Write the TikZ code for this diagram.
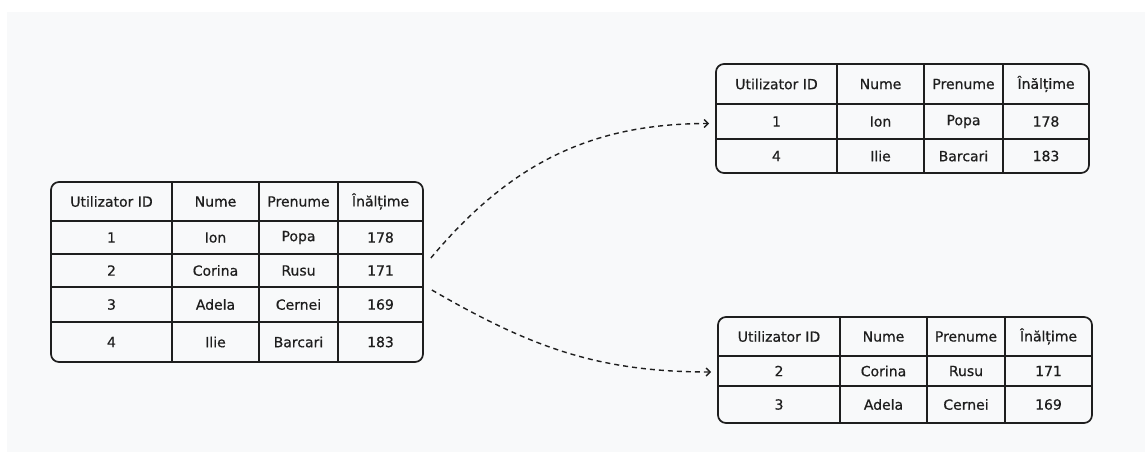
\documentclass[tikz,border=0pt]{standalone}
\usepackage{fontspec}
\setmainfont{DejaVu Sans}
\newfontfamily\cellfont[FakeBold=0.6]{DejaVu Sans}
\usepackage{xcolor}
\usepackage{tikz}
\usetikzlibrary{arrows.meta,positioning,calc}

\definecolor{canvas}{HTML}{F8F9FA}
\definecolor{ink}{HTML}{1E1E1E}

\tikzset{
    tableframe/.style={draw=ink, line width=1.7pt, rounded corners=8pt, inner sep=0pt},
    rule/.style={draw=ink, line width=1.5pt},
    cell/.style={text=ink, font=\cellfont\fontsize{14}{16}\selectfont, inner sep=0pt},
    flow/.style={draw=ink, line width=1.4pt, dash pattern=on 5pt off 4pt,
        -{Straight Barb[length=4pt,width=8pt]}}
}

\begin{document}
\begin{tikzpicture}[x=1pt, y=-1pt]
    % Canvas
    \fill[white] (0,0) rectangle (1145,466);
    \fill[canvas] (7,12) rectangle (1145,452);

    % Source table (all users)
    \node[tableframe, minimum width=372pt, minimum height=180pt] (src) at (237,272) {};
    \draw[rule] (172,182) -- (172,362) (259,182) -- (259,362) (338,182) -- (338,362);
    \foreach \y in {221,254,287,322}
        \draw[rule] (51,\y) -- (423,\y);
    \foreach \y/\a/\b/\c/\d [count=\r] in {201.5/Utilizator ID/Nume/Prenume/Înălțime,
            237.5/1/Ion/Popa/178, 270.5/2/Corina/Rusu/171,
            304.5/3/Adela/Cernei/169, 342/4/Ilie/Barcari/183} {
        \node[cell] (src-\r-1) at (111.5,\y) {\a};
        \node[cell] (src-\r-2) at (215.5,\y) {\b};
        \node[cell] (src-\r-3) at (298.5,\y) {\c};
        \node[cell] (src-\r-4) at (380.5,\y) {\d};
    }

    % First partition
    \node[tableframe, minimum width=373pt, minimum height=109pt] (top) at (902.5,118.5) {};
    \draw[rule] (837,64) -- (837,173) (924,64) -- (924,173) (1003,64) -- (1003,173);
    \foreach \y in {104,139}
        \draw[rule] (716,\y) -- (1089,\y);
    \foreach \y/\a/\b/\c/\d [count=\r] in {84/Utilizator ID/Nume/Prenume/Înălțime,
            121.5/1/Ion/Popa/178, 156/4/Ilie/Barcari/183} {
        \node[cell] (top-\r-1) at (776.5,\y) {\a};
        \node[cell] (top-\r-2) at (880.5,\y) {\b};
        \node[cell] (top-\r-3) at (963.5,\y) {\c};
        \node[cell] (top-\r-4) at (1046,\y) {\d};
    }

    % Second partition
    \node[tableframe, minimum width=374pt, minimum height=106pt] (bot) at (905,370) {};
    \draw[rule] (840,317) -- (840,423) (927,317) -- (927,423) (1005,317) -- (1005,423);
    \foreach \y in {356,386}
        \draw[rule] (718,\y) -- (1092,\y);
    \foreach \y/\a/\b/\c/\d [count=\r] in {336.5/Utilizator ID/Nume/Prenume/Înălțime,
            371/2/Corina/Rusu/171, 404.5/3/Adela/Cernei/169} {
        \node[cell] (bot-\r-1) at (779,\y) {\a};
        \node[cell] (bot-\r-2) at (883.5,\y) {\b};
        \node[cell] (bot-\r-3) at (966,\y) {\c};
        \node[cell] (bot-\r-4) at (1048.5,\y) {\d};
    }

    % Split arrows
    \draw[flow] ([xshift=7pt,yshift=14pt]src.east) to[out=50, in=180] ([xshift=-6pt,yshift=-5pt]top.west);
    \draw[flow] ([xshift=8pt,yshift=-18pt]src.east) to[out=-30, in=180] ([xshift=-6pt,yshift=-2pt]bot.west);
\end{tikzpicture}
\end{document}
